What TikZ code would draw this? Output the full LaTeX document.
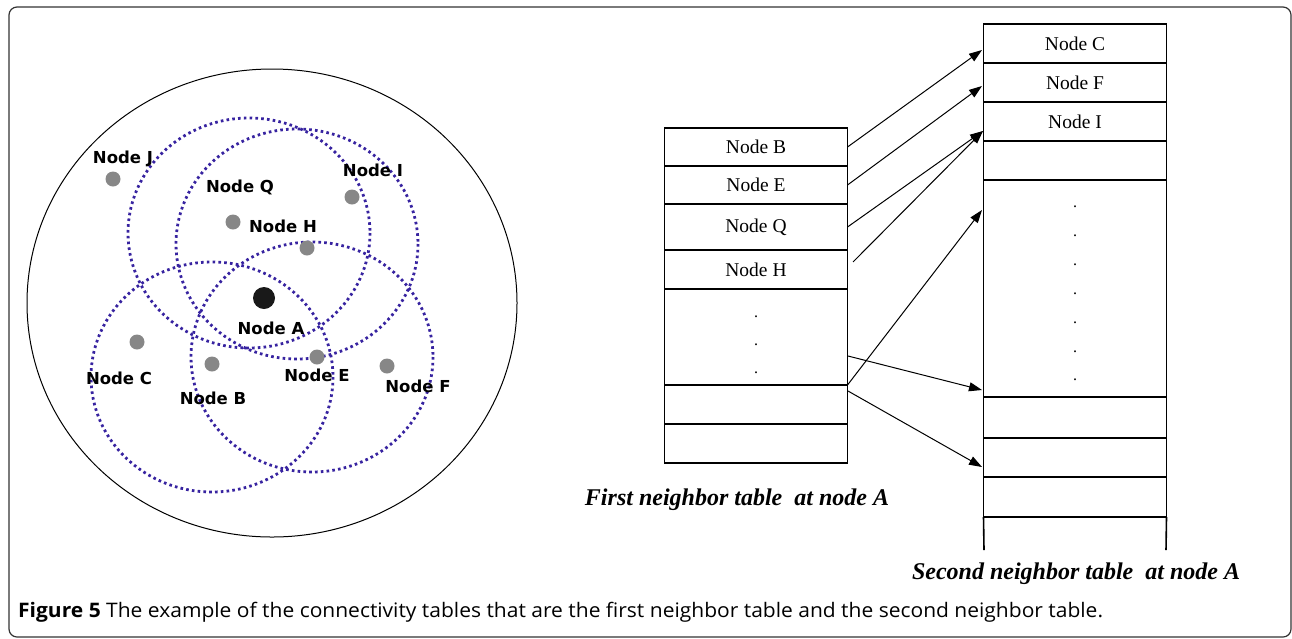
\documentclass[tikz,border=0pt]{standalone}
\usepackage{fontspec}
\setmainfont{Liberation Serif}
\newfontfamily\labelfont{DejaVu Sans}
\newfontfamily\capfont[FakeStretch=1.05]{Open Sans}
\usetikzlibrary{positioning,arrows.meta}
\definecolor{rangeblue}{RGB}{55,35,160}
\definecolor{nodegray}{RGB}{135,135,135}
\begin{document}
\begin{tikzpicture}[x=1pt,y=-1pt,
  cell/.style={draw, line width=1.6pt, rectangle, inner sep=0pt, outer sep=0pt, minimum width=183pt, font=\fontsize{19.5}{21}\selectfont},
  rangering/.style={rangeblue, line width=2.8pt, dash pattern=on 2.6pt off 3.2pt},
  sensor/.style={circle, fill=nodegray, inner sep=0pt, minimum size=15pt},
  nlabel/.style={font=\labelfont\bfseries\fontsize{16.5}{18}\selectfont, inner sep=0pt},
  tabletitle/.style={font=\bfseries\itshape\fontsize{24}{26}\selectfont, inner sep=0pt},
  link/.style={-{Triangle[length=13pt,width=9pt]}, line width=1pt}]
\useasboundingbox (0,0) rectangle (1292,638);
\draw[rounded corners=8pt, line width=1.2pt, black!80] (9,7) rectangle (1291,637);

\draw[line width=1pt] (272,303) ellipse [x radius=245, y radius=234];
\foreach \x/\y in {249/233, 297/244, 212/377, 312/357}
\draw[rangering] (\x,\y) ellipse [x radius=121, y radius=115];

\foreach \n/\x/\y in {J/113/179, Q/233/222, I/352/197, H/307/248, C/137/342, B/212/364, E/317/357, F/387/366}
\node[sensor] (p\n) at (\x,\y) {};
\node[sensor, fill=black!90, minimum size=22pt] (pA) at (264,298) {};

\foreach \n/\x/\y in {J/123/159, Q/240/187, I/373/170, H/283/226, A/271/328, C/119/378, B/213/398, E/317/375, F/418/386}
\node[nlabel] (l\n) at (\x,\y) {Node \n};

\node[cell, minimum height=38pt, anchor=north] (fB) at (756,128) {Node B};
\node[cell, minimum height=38pt, below=0pt of fB] (fE) {Node E};
\node[cell, minimum height=46pt, below=0pt of fE] (fQ) {Node Q};
\node[cell, minimum height=39pt, below=0pt of fQ] (fH) {Node H};
\node[cell, minimum height=96pt, below=0pt of fH] (fDots) {};
\node[cell, minimum height=39pt, below=0pt of fDots] (f6) {};
\node[cell, minimum height=39pt, below=0pt of f6] (f7) {};
\foreach \y in {315, 343, 371}
\node[font=\fontsize{16}{18}\selectfont, inner sep=0pt, anchor=base] at (756,\y+2) {.};

\node[cell, minimum height=39pt, anchor=north] (sC) at (1075,24) {Node C};
\node[cell, minimum height=39pt, below=0pt of sC] (sF) {Node F};
\node[cell, minimum height=39pt, below=0pt of sF] (sI) {Node I};
\node[cell, minimum height=39pt, below=0pt of sI] (s4) {};
\node[cell, minimum height=217pt, below=0pt of s4] (sDots) {};
\node[cell, minimum height=41pt, below=0pt of sDots] (s6) {};
\node[cell, minimum height=39pt, below=0pt of s6] (s7) {};
\node[cell, minimum height=40pt, below=0pt of s7] (s8) {};
\coordinate (sEndL) at (984,550);
\coordinate (sEndR) at (1166,550);
\draw[line width=1.6pt] (s8.south west) -- (sEndL);
\draw[line width=1.6pt] (s8.south east) -- (sEndR);
\foreach \y in {205, 234, 263, 292, 321, 350, 378}
\node[font=\fontsize{16}{18}\selectfont, inner sep=0pt, anchor=base] at (1075,\y+2) {.};

\coordinate (hStart) at (853,262);
\coordinate (dStart) at (848,356);
\coordinate (eStart) at (848,391);
\coordinate (tC) at (982,50);
\coordinate (tF) at (982,86);
\coordinate (tI) at (983,131);
\coordinate (tDots) at (982,210);
\coordinate (tLow) at (982,390);
\coordinate (t7) at (982,467);
\draw[link] (fB.east) -- (tC);
\draw[link] (fE.east) -- (tF);
\draw[link] (fQ.east) -- (tI);
\draw[link] (hStart) -- (tI);
\draw[link] (fDots.south east) -- (tDots);
\draw[link] (dStart) -- (tLow);
\draw[link] (eStart) -- (t7);

\node[tabletitle] (fTitle) at (737,500) {First neighbor table~ at node A};
\node[tabletitle] (sTitle) at (1076,574) {Second neighbor table~ at node A};

\node[font=\capfont\fontsize{20}{22}\selectfont, anchor=base west, inner sep=0pt] (caption) at (18,617) {\textbf{Figure 5} The example of the connectivity tables that are the first neighbor table and the second neighbor table.};
\end{tikzpicture}
\end{document}
